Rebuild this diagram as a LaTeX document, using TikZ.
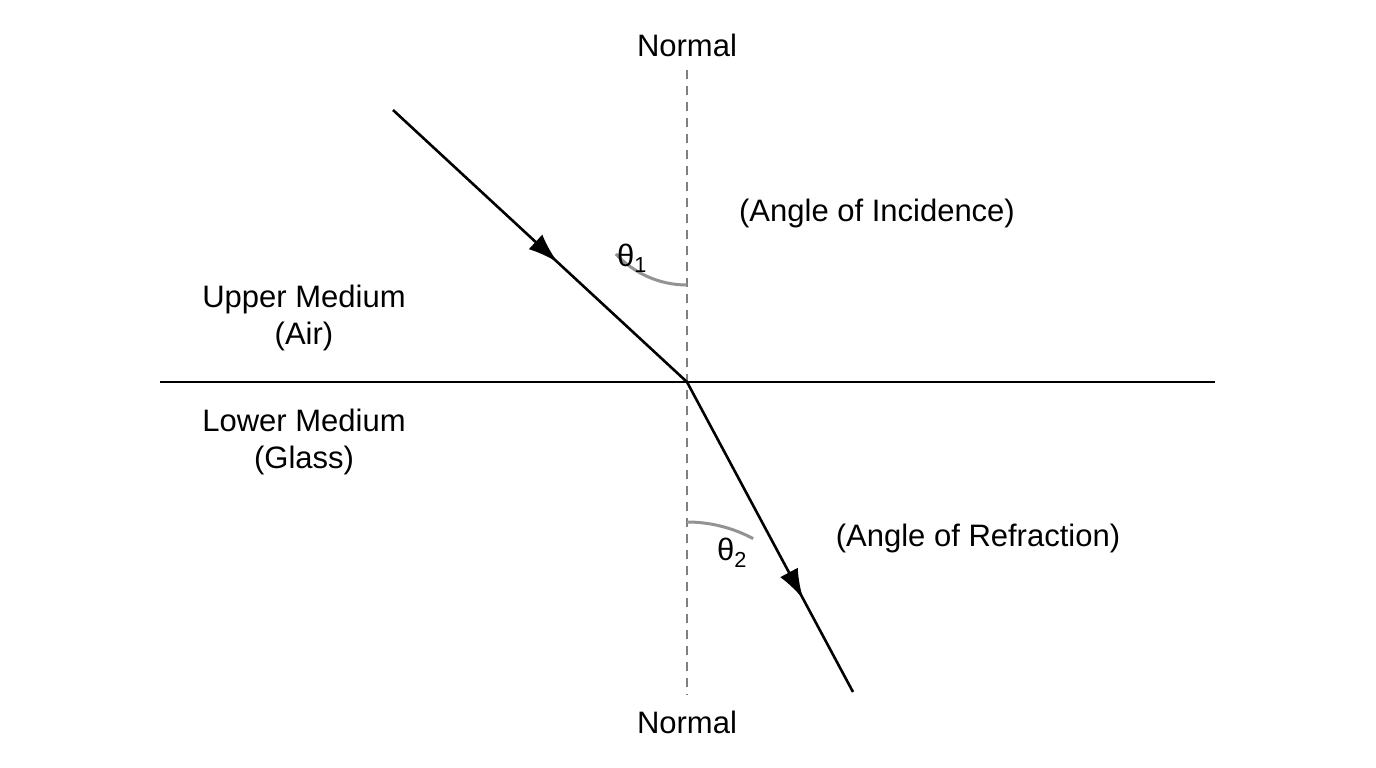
\documentclass[tikz,border=0pt]{standalone}
\usepackage{fontspec}
\setmainfont{Liberation Sans}
\usetikzlibrary{arrows.meta,decorations.markings}
\tikzset{
  lbl/.style={font=\fontsize{31}{37}\selectfont, align=center, inner sep=0pt},
  ray/.style={line width=2.6pt, black},
  mid arrow/.style={postaction={decorate}, decoration={markings,
    mark=at position #1 with {\arrow{Latex[length=30pt,width=20pt]}}}},
  angarc/.style={line width=3pt, gray!85}
}
\begin{document}
\begin{tikzpicture}[x=1pt,y=-1pt]
\useasboundingbox (0,0) rectangle (1376,768);
\fill[white] (0,0) rectangle (1376,768);
% points
\coordinate (O) at (687,382);
\coordinate (inc) at (393,110);
\coordinate (ref) at (853,692);
\coordinate (nt) at (687,70);
\coordinate (nb) at (687,695);
\coordinate (sl) at (160,382);
\coordinate (sr) at (1215,382);
% normal and interface
\draw[gray, line width=2.6pt, dash pattern=on 9pt off 7pt] (nt) -- (nb);
\draw[ray] (sl) -- (sr);
% angles
\draw[angarc] (687,285) arc[start angle=90, end angle=137.2, radius=97];
\draw[angarc] (687,522) arc[start angle=-90, end angle=-61.8, radius=140];
% rays
\draw[ray, mid arrow=0.56] (inc) -- (O);
\draw[ray, mid arrow=0.70] (O) -- (ref);
% labels
\node[lbl] (ntop) at (687,45) {Normal};
\node[lbl] (nbot) at (687,722) {Normal};
\node[lbl] (incid) at (877,213) {(Angle of Incidence)};
\node[lbl] (th1) at (632,258) {θ\textsubscript{1}};
\node[lbl] (upper) at (304,318) {Upper Medium\\(Air)};
\node[lbl] (lower) at (304,442) {Lower Medium\\(Glass)};
\node[lbl] (th2) at (732,553) {θ\textsubscript{2}};
\node[lbl] (refr) at (978,538) {(Angle of Refraction)};
\end{tikzpicture}
\end{document}
